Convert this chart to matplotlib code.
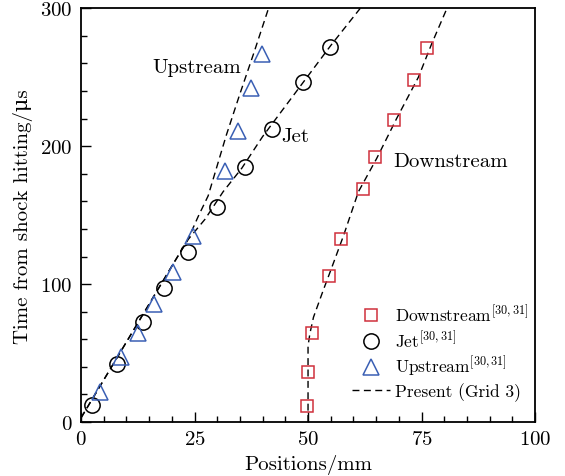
import matplotlib
matplotlib.use("Agg")
import matplotlib.pyplot as plt
from matplotlib.ticker import MultipleLocator

plt.rcParams['font.family'] = ['cmr10', 'DejaVu Serif']
plt.rcParams['mathtext.fontset'] = 'cm'
plt.rcParams['axes.formatter.use_mathtext'] = True

# Experimental data [30,31]
down_x = [49.8, 49.9, 50.8, 54.6, 57.2, 62.0, 64.7, 68.9, 73.3, 76.1]
down_y = [11.4, 36.5, 64.3, 105.6, 133.0, 169.0, 192.0, 219.2, 248.2, 271.2]

jet_x = [2.5, 7.9, 13.7, 18.3, 23.5, 30.0, 36.1, 42.0, 49.0, 54.8]
jet_y = [12.5, 42.0, 72.7, 97.0, 123.5, 155.7, 184.7, 212.5, 246.3, 272.2]

up_x = [4.2, 8.8, 12.5, 16.1, 20.3, 24.6, 31.8, 34.5, 37.4, 39.8]
up_y = [22.0, 46.9, 64.3, 85.6, 108.5, 135.0, 182.2, 210.8, 242.0, 266.9]

# Present simulation (Grid 3)
sim_up_x = [0, 5, 10, 15, 20, 23.5, 25.8, 28.0, 32.0, 35.0, 38.0, 41.3]
sim_up_y = [3, 30.5, 58, 85.5, 113, 132, 149, 164, 208, 238, 267, 300]

sim_jet_x = [0, 5, 10, 15, 20, 23.5, 27.3, 31.3, 35.4, 40, 45, 50, 55, 61.5]
sim_jet_y = [3, 30.5, 58, 85.5, 113, 132, 147, 167, 184, 207, 229, 251, 273, 300]

sim_down_x = [50.0, 50.0, 50.0, 50.4, 51.2, 53.4, 55.0, 57.8, 61.1, 65.1, 69.5, 74.3, 77.2, 80.6]
sim_down_y = [0, 30, 55, 64, 76, 96, 110, 135, 167, 191, 220, 250, 274, 300]

xticks = [0, 25, 50, 75, 100]
yticks = [0, 100, 200, 300]

fig = plt.figure(figsize=(5.65, 4.77), dpi=100)
ax = fig.add_axes([0.1434, 0.1132, 0.8036, 0.8673])

red = '#d0303c'
blue = '#3a5fb4'
dash = (0, (5, 3.2))

ax.plot(sim_up_x, sim_up_y, color='black', lw=1.0, linestyle=dash)
ax.plot(sim_jet_x, sim_jet_y, color='black', lw=1.0, linestyle=dash)
ax.plot(sim_down_x, sim_down_y, color='black', lw=1.0, linestyle=dash,
        label='Present (Grid 3)')

ax.plot(down_x, down_y, 's', ms=8, mfc='none', mec=red, mew=1.1,
        label=r'Downstream$^{[30,31]}$')
ax.plot(jet_x, jet_y, 'o', ms=11, mfc='none', mec='black', mew=1.1,
        label=r'Jet$^{[30,31]}$')
ax.plot(up_x, up_y, '^', ms=12, mfc='none', mec=blue, mew=1.1,
        label=r'Upstream$^{[30,31]}$')

ax.set_xlim(0, 100)
ax.set_ylim(0, 300)
ax.set_xticks(xticks)
ax.set_yticks(yticks)
ax.xaxis.set_minor_locator(MultipleLocator(5))
ax.yaxis.set_minor_locator(MultipleLocator(20))
ax.tick_params(which='both', direction='in', top=False, right=False, labelsize=15)
ax.tick_params(which='major', length=7.5, width=1.0, pad=6)
ax.tick_params(which='minor', length=4.5, width=1.0)
for s in ax.spines.values():
    s.set_linewidth(1.3)

ax.set_xlabel('Positions/mm', fontsize=15, labelpad=4)
ax.set_ylabel('Time from shock hitting/μs', fontsize=15, labelpad=5)

ax.text(35.2, 257.4, 'Upstream', fontsize=15, ha='right', va='center')
ax.text(44.2, 207.2, 'Jet', fontsize=15, ha='left', va='center')
ax.text(68.8, 189.5, 'Downstream', fontsize=15, ha='left', va='center')

h, l = ax.get_legend_handles_labels()
order = [1, 2, 3, 0]
ax.legend([h[i] for i in order], [l[i] for i in order], loc='lower left',
          bbox_to_anchor=(0.597, 0.05), frameon=False, fontsize=12.5,
          handlelength=2.2, handletextpad=0.3, labelspacing=0.25,
          borderpad=0, borderaxespad=0)

fig.savefig('out.png', dpi=100)
